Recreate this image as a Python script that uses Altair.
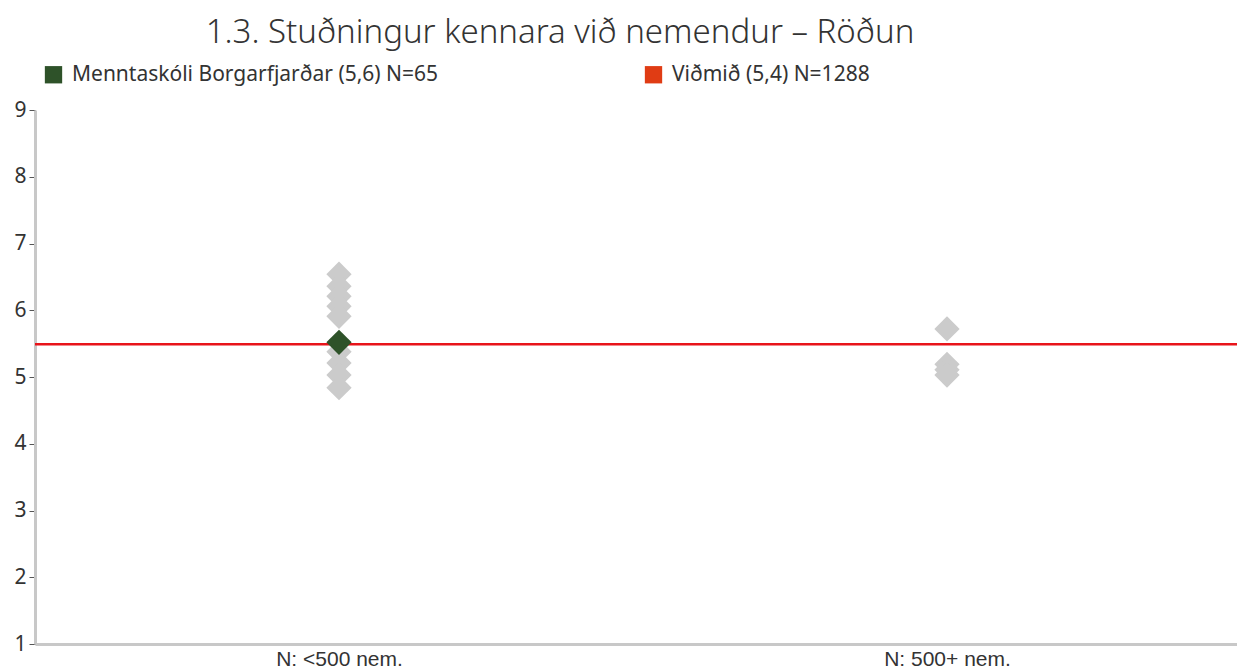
import altair as alt
import pandas as pd

categories = ["N: <500 nem.", "N: 500+ nem."]
small_values = [6.54, 6.36, 6.21, 6.06, 5.91, 5.38, 5.21, 5.03, 4.84]
large_values = [5.72, 5.19, 5.11, 5.03]
school_label = "Menntaskóli Borgarfjarðar (5,6) N=65"
ref_label = "Viðmið (5,4) N=1288"
school_category = "N: <500 nem."
school_value = 5.52
ref_value = 5.49
y_ticks = [1, 2, 3, 4, 5, 6, 7, 8, 9]

gray_df = pd.DataFrame(
    {"cat": [categories[0]] * len(small_values) + [categories[1]] * len(large_values),
     "val": small_values + large_values}
)
school_df = pd.DataFrame({"cat": [school_category], "val": [school_value], "lab": [school_label]})
ref_df = pd.DataFrame({"val": [ref_value], "lab": [ref_label]})
legend_df = pd.DataFrame({"cat": [school_category, school_category],
                          "val": [school_value, school_value],
                          "lab": [school_label, ref_label]})

FONT = "Noto Sans"
x_scale = alt.Scale(domain=categories, paddingInner=0.0, paddingOuter=0.0, range=[0, 1216])
x_enc = alt.X("cat:N", scale=x_scale,
              axis=alt.Axis(title=None, labelAngle=0, ticks=False, labelFontSize=21,
                            labelColor="#333333", labelFont="Liberation Sans", labelPadding=4,
                            domainColor="#c8c8c8", domainWidth=3))
y_scale = alt.Scale(domain=[1, 9], nice=False)
y_axis = alt.Axis(title=None, values=y_ticks, format="d", grid=False, labelFontSize=21,
                  labelColor="#333333", labelFont=FONT, tickColor="#555555", tickSize=6,
                  tickWidth=1, domainColor="#c8c8c8", domainWidth=3, labelPadding=3)

gray = alt.Chart(gray_df).mark_point(shape="diamond", filled=True, size=640, opacity=1,
                                     color="#cbcbcb").encode(
    x=x_enc, y=alt.Y("val:Q", scale=y_scale, axis=y_axis))

rule = alt.Chart(ref_df).mark_rule(color="#e8141a", strokeWidth=2.5).encode(
    y=alt.Y("val:Q", scale=y_scale), x=alt.value(0), x2=alt.value(1216))

school = alt.Chart(school_df).mark_point(shape="diamond", filled=True, size=640, opacity=1,
                                         color="#2e5229").encode(
    x=alt.X("cat:N", scale=x_scale), y=alt.Y("val:Q", scale=y_scale))

legend_layer = alt.Chart(legend_df).mark_point(shape="square", filled=True, opacity=0).encode(
    x=alt.X("cat:N", scale=x_scale),
    y=alt.Y("val:Q", scale=y_scale),
    color=alt.Color("lab:N",
                    scale=alt.Scale(domain=[school_label, ref_label], range=["#2e5229", "#e03c14"]),
                    legend=alt.Legend(title=None, orient="none", legendX=8, legendY=-46,
                                      direction="horizontal", symbolType="square", symbolSize=300,
                                      symbolOpacity=1, labelFontSize=21, labelFont=FONT,
                                      labelColor="#333333", columnPadding=204, labelOffset=8,
                                      labelLimit=600)),
)

chart = alt.layer(gray, rule, school, legend_layer).properties(
    width=1202, height=534,
    autosize=alt.AutoSizeParams(type="none"),
    padding={"left": 27, "top": 102, "right": 0, "bottom": 28},
    title=alt.TitleParams("1.3. Stuðningur kennara við nemendur – Röðun", fontSize=33,
                          font=FONT, fontWeight=300, color="#333333", anchor="middle",
                          dx=-76, offset=14),
).configure_view(stroke=None)

chart.save("out.html", embed_options={"renderer": "svg", "actions": False})
